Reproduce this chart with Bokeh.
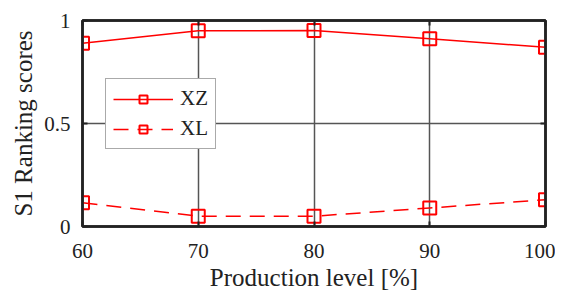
from bokeh.plotting import figure
from bokeh.models import Range1d, FixedTicker, LinearAxis, Legend, LegendItem
from bokeh.embed import file_html
from bokeh.resources import INLINE

levels = [60, 70, 80, 90, 100]
xz = [0.89, 0.95, 0.951, 0.911, 0.87]
xl = [0.115, 0.05, 0.05, 0.09, 0.13]
x_ticks = [60, 70, 80, 90, 100]
y_ticks = [0, 0.5, 1]
y_tick_labels = {0: "0", 0.5: "0.5", 1: "1"}

FONT = "Liberation Serif"
RED = "#ff0000"
DARK = "#222222"

p = figure(width=555, height=293, output_backend="svg", toolbar_location=None,
           x_range=Range1d(60, 100), y_range=Range1d(0, 1),
           min_border_left=82, min_border_right=10, min_border_top=20, min_border_bottom=67)
p.background_fill_color = "white"
p.border_fill_color = "white"
p.outline_line_color = DARK
p.outline_line_width = 2.5

for ax in (p.xaxis[0], p.yaxis[0]):
    ax.axis_line_color = DARK
    ax.axis_line_width = 2.5
    ax.major_tick_in = 5
    ax.major_tick_out = 0
    ax.major_tick_line_color = DARK
    ax.major_tick_line_width = 2
    ax.minor_tick_line_color = None
    ax.major_label_text_font = FONT
    ax.major_label_text_font_size = "21px"
    ax.major_label_text_color = DARK
    ax.major_label_text_line_height = 1.0
    ax.axis_label_text_font = FONT
    ax.axis_label_text_font_size = "25px"
    ax.axis_label_text_font_style = "normal"
    ax.axis_label_text_color = DARK
    ax.axis_label_text_line_height = 1.0

p.xaxis[0].ticker = FixedTicker(ticks=x_ticks)
p.yaxis[0].ticker = FixedTicker(ticks=y_ticks)
p.yaxis[0].major_label_overrides = y_tick_labels
p.xaxis[0].axis_label = "Production level [%]"
p.yaxis[0].axis_label = "S1 Ranking scores"
p.xaxis[0].major_label_standoff = 17
p.yaxis[0].major_label_standoff = 12
p.xaxis[0].axis_label_standoff = 3
p.yaxis[0].axis_label_standoff = 4

for loc, ticks in (("right", y_ticks), ("above", x_ticks)):
    ax = LinearAxis(ticker=FixedTicker(ticks=ticks),
                    major_label_overrides={t: "" for t in ticks},
                    axis_line_color=DARK, axis_line_width=2.5,
                    major_tick_in=5, major_tick_out=0, major_tick_line_color=DARK,
                    major_tick_line_width=2, minor_tick_line_color=None,
                    major_label_standoff=0)
    p.add_layout(ax, loc)

p.xgrid.ticker = FixedTicker(ticks=[70, 80, 90])
p.ygrid.ticker = FixedTicker(ticks=[0.5])
p.xgrid.grid_line_color = "#555555"
p.ygrid.grid_line_color = "#555555"
p.xgrid.grid_line_width = 1.5
p.ygrid.grid_line_width = 1.5

l1 = p.line(levels, xz, line_color=RED, line_width=1.5)
s1 = p.scatter(levels, xz, marker="square", size=13, line_color=RED, line_width=2, fill_color=None)
l2 = p.line(levels, xl, line_color=RED, line_width=1.5, line_dash="15 9")
s2 = p.scatter(levels, xl, marker="square", size=13, line_color=RED, line_width=2, fill_color=None)

legend = Legend(items=[LegendItem(label="XZ", renderers=[l1, s1]),
                       LegendItem(label="XL", renderers=[l2, s2])],
                location=(23, 77), padding=7, spacing=5, margin=0,
                glyph_width=60, glyph_height=20, label_height=20, label_standoff=7,
                label_text_font=FONT, label_text_font_size="21px", label_text_color=DARK,
                border_line_color="#555555", border_line_width=1.5,
                background_fill_color="white", background_fill_alpha=1)
p.add_layout(legend, "center")

open("out.html", "w").write(file_html(p, INLINE))
